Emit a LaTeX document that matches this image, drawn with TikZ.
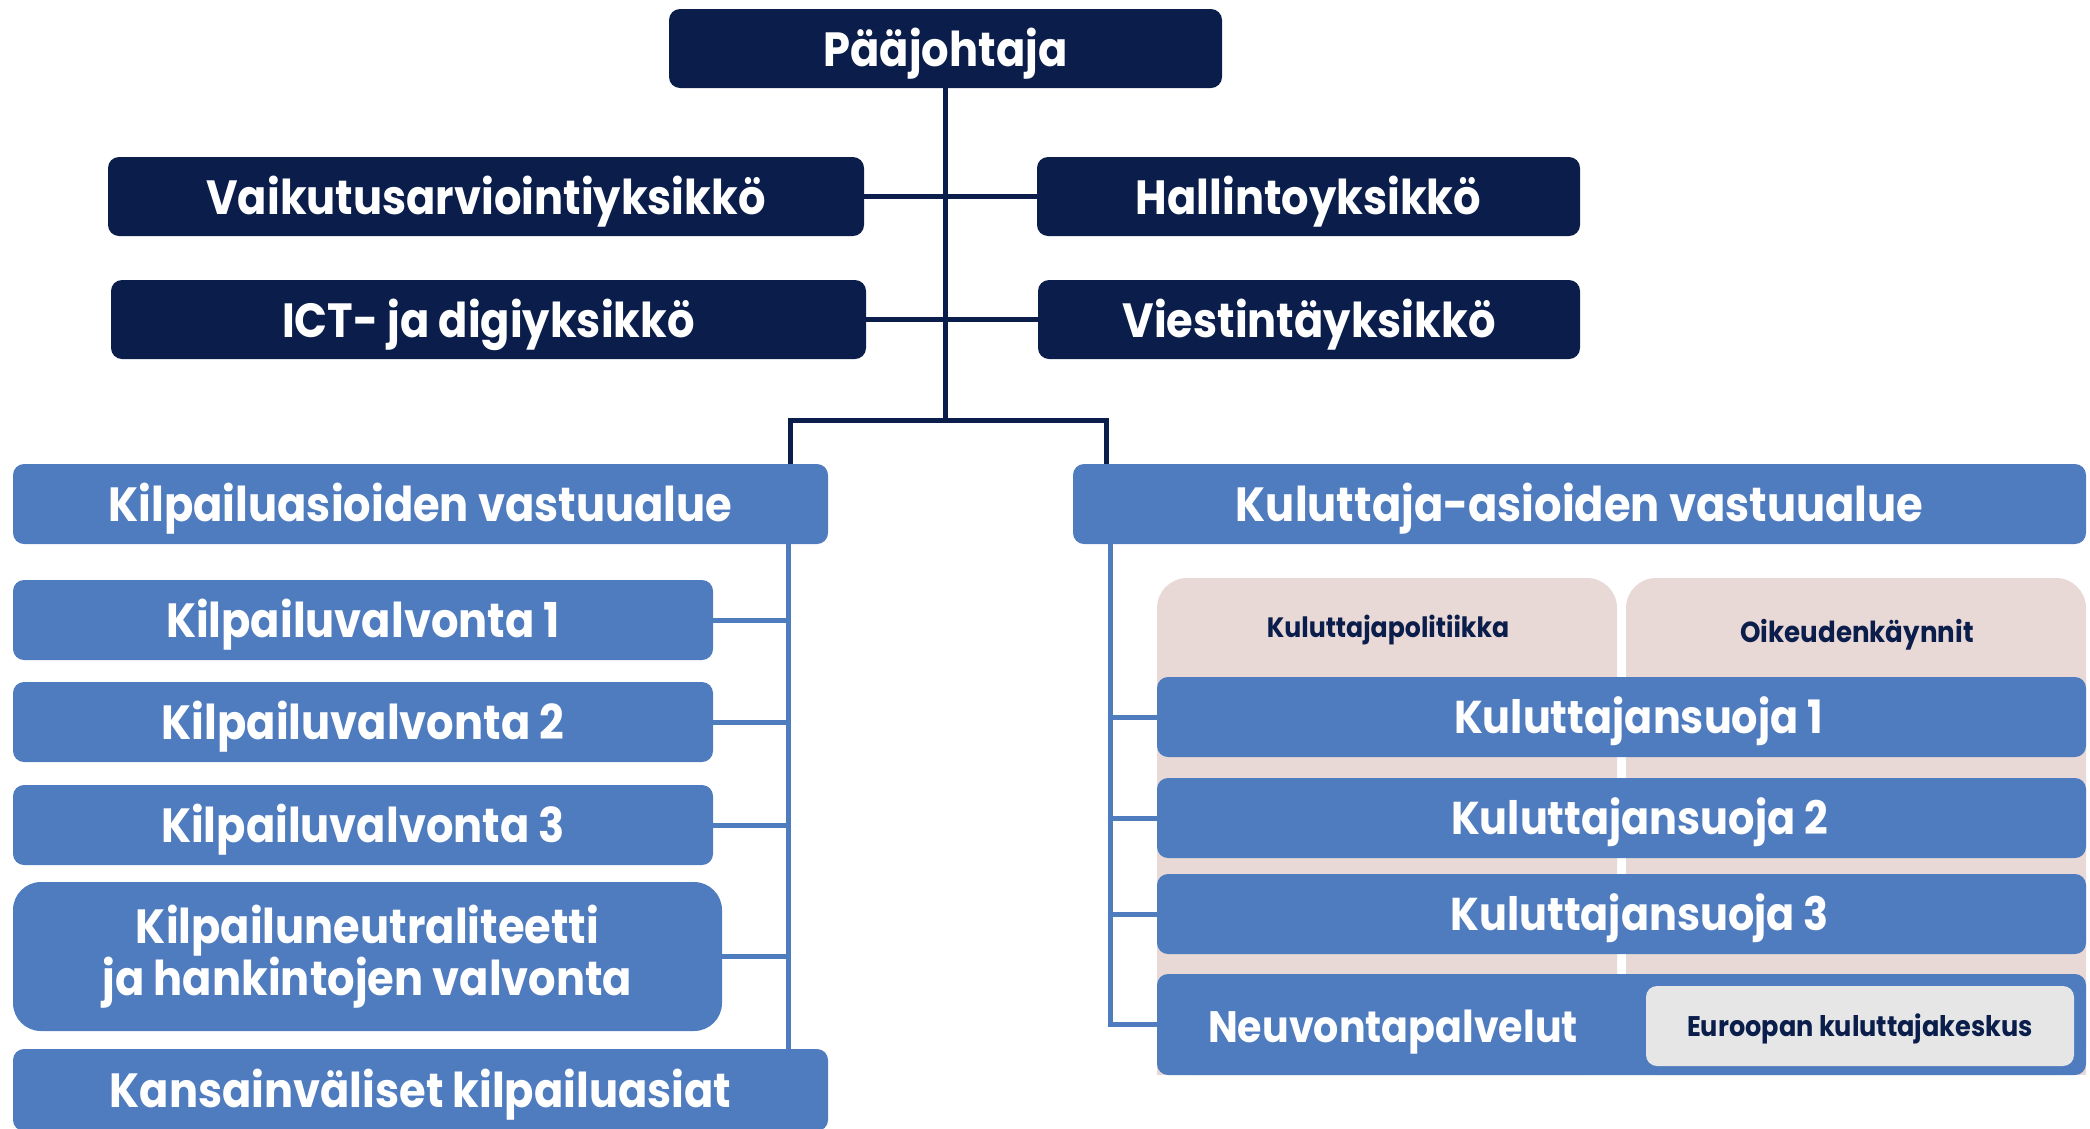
\documentclass[tikz,border=0pt]{standalone}
\usepackage{fontspec}
\setmainfont{Poppins}[FakeStretch=0.9]
\definecolor{navy}{HTML}{0B1E4B}
\definecolor{blu}{HTML}{4F7BBF}
\definecolor{pnk}{HTML}{E9D9D6}
\definecolor{gry}{HTML}{E6E6E6}
\begin{document}
\begin{tikzpicture}[x=1pt,y=-1pt,
  base/.style={rounded corners=11pt, inner sep=0pt, text=white, align=center},
  box/.style={base, font=\bfseries\fontsize{48}{46}\selectfont, text height=35pt, text depth=0pt},
  darkbox/.style={box, fill=navy},
  bluebox/.style={box, fill=blu},
  ksbox/.style={bluebox, minimum width=929pt, minimum height=80pt,
    font=\bfseries\fontsize{46}{46}\selectfont, text height=33pt},
  navyline/.style={draw=navy, line width=5pt},
  blueline/.style={draw=blu, line width=5pt},
  small/.style={inner sep=0pt, text=navy, font=\bfseries\fontsize{28}{30}\selectfont,
    text height=19.6pt, text depth=0pt},
]
\useasboundingbox (0,0) rectangle (2090,1128);
\clip (0,0) rectangle (2090,1128);

% pink panels
\fill[pnk, rounded corners=30pt] (1157,578) rectangle (1617,1075);
\fill[pnk] (1157,1000) rectangle (1617,1075);
\fill[pnk, rounded corners=30pt] (1626,578) rectangle (2086,1075);
\fill[pnk] (1626,1000) rectangle (2086,1075);

% top nodes
\node[darkbox, minimum width=553pt, minimum height=79pt] (paa) at (945.5,48.5) {Pääjohtaja};
\node[darkbox, minimum width=756pt, minimum height=79pt] (vai) at (486,196.5) {Vaikutusarviointiyksikkö};
\node[darkbox, minimum width=543pt, minimum height=79pt] (hal) at (1308.5,196.5) {Hallintoyksikkö};
\node[darkbox, minimum width=755pt, minimum height=79pt] (ict) at (488.5,319.5) {ICT- ja digiyksikkö};
\node[darkbox, minimum width=542pt, minimum height=79pt] (vie) at (1309,319.5) {Viestintäyksikkö};

% left branch
\node[bluebox, minimum width=815pt, minimum height=80pt] (kilp) at (420.5,504) {Kilpailuasioiden vastuualue};
\node[bluebox, minimum width=700pt, minimum height=80pt] (kv1) at (363,620) {Kilpailuvalvonta 1};
\node[bluebox, minimum width=700pt, minimum height=80pt] (kv2) at (363,722) {Kilpailuvalvonta 2};
\node[bluebox, minimum width=700pt, minimum height=80pt] (kv3) at (363,825) {Kilpailuvalvonta 3};
\node[base, fill=blu, rounded corners=28pt, minimum width=709pt, minimum height=149pt,
  font=\bfseries\fontsize{48}{47}\selectfont] (kn) at (367.5,956.5) {Kilpailuneutraliteetti\\ja hankintojen valvonta};
\node[bluebox, minimum width=815pt, minimum height=82pt] (kans) at (420.5,1090) {Kansainväliset kilpailuasiat};

% right branch
\node[bluebox, minimum width=1013pt, minimum height=80pt] (kul) at (1579.5,504) {Kuluttaja-asioiden vastuualue};
\node[small] (pol) at (1388,628) {Kuluttajapolitiikka};
\node[small, font=\bfseries\fontsize{29}{30}\selectfont, text height=20.3pt] (oik) at (1857,632) {Oikeudenkäynnit};
\node[ksbox] (ks1) at (1621.5,717) {\hspace*{34pt}Kuluttajansuoja 1};
\node[ksbox] (ks2) at (1621.5,818) {\hspace*{36pt}Kuluttajansuoja 2};
\node[ksbox] (ks3) at (1621.5,914) {\hspace*{36pt}Kuluttajansuoja 3};
\node[bluebox, minimum width=929pt, minimum height=101pt] (neu) at (1621.5,1024.5) {};
\node[inner sep=0pt, text=white, font=\bfseries\fontsize{44}{44}\selectfont,
  text height=31.8pt, text depth=0pt] (neut) at (1393,1027) {Neuvontapalvelut};
\node[base, fill=gry, text=navy, minimum width=428pt, minimum height=80pt,
  font=\bfseries\fontsize{28.4}{30}\selectfont, text height=20.9pt, text depth=0pt] (eur) at (1860,1026) {Euroopan kuluttajakeskus};

% navy connectors
\coordinate (lx) at (790,420);
\coordinate (rx) at (1106,420);
\draw[navyline] (paa.south) -- (paa.south |- lx);
\draw[navyline] (vai.east) -- (hal.west);
\draw[navyline] (ict.east) -- (vie.west);
\draw[navyline, line join=miter] (kilp.north -| lx) -- (lx) -- (rx) -- (kul.north -| rx);

% blue connectors left
\coordinate (lb) at (788,0);
\draw[blueline] (kilp.south -| lb) -- (kans.north -| lb);
\draw[blueline] (kv1.east) -- (kv1.east -| lb);
\draw[blueline] (kv2.east) -- (kv2.east -| lb);
\draw[blueline] (kv3.east) -- (kv3.east -| lb);
\draw[blueline] (kn.east) -- (kn.east -| lb);

% blue connectors right
\coordinate (rb) at (1110,0);
\draw[blueline, line join=miter] (kul.south -| rb) -- (neu.west -| rb) -- (neu.west);
\draw[blueline] (ks1.west -| rb) -- (ks1.west);
\draw[blueline] (ks2.west -| rb) -- (ks2.west);
\draw[blueline] (ks3.west -| rb) -- (ks3.west);
\end{tikzpicture}
\end{document}
